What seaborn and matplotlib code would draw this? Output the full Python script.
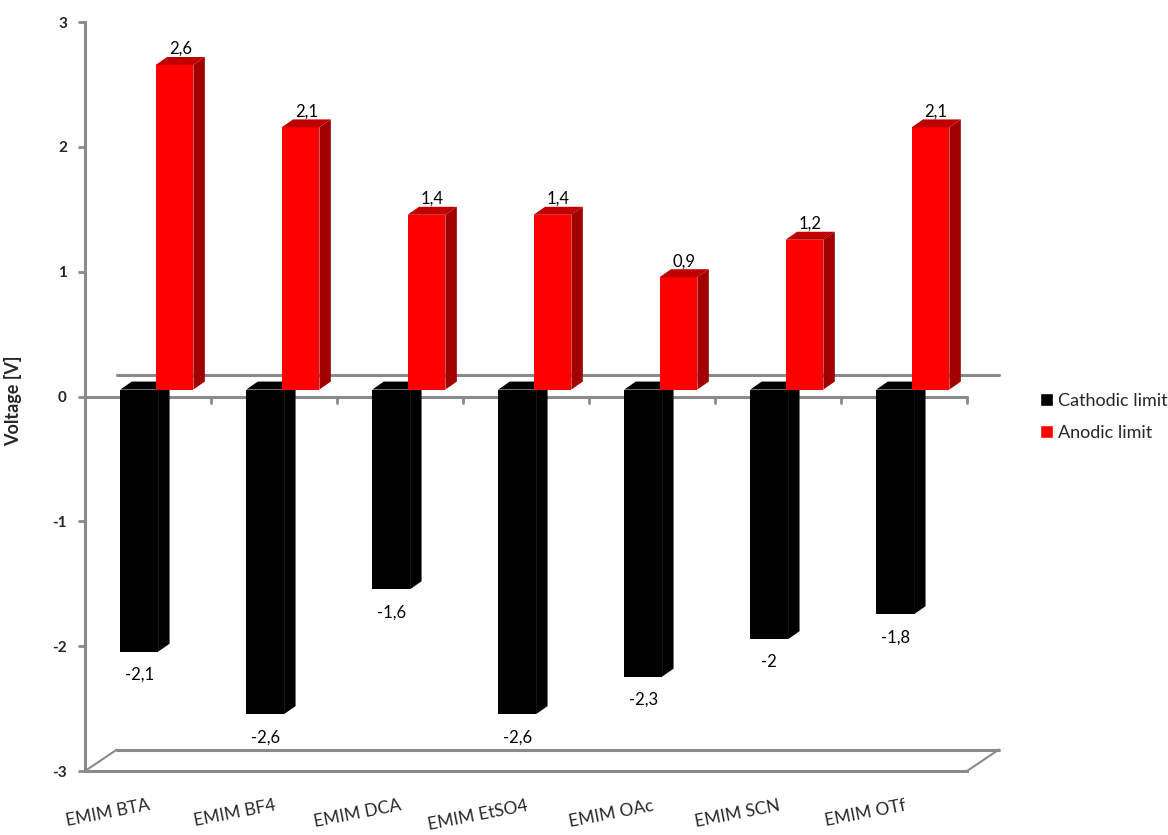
import numpy as np
import pandas as pd
import seaborn as sns
import matplotlib.pyplot as plt
from matplotlib.patches import Polygon, Patch

# Electrochemical window of EMIM ionic liquids
liquids = ["EMIM BTA", "EMIM BF4", "EMIM DCA", "EMIM EtSO4", "EMIM OAc", "EMIM SCN", "EMIM OTf"]
cathodic = [-2.1, -2.6, -1.6, -2.6, -2.3, -2.0, -1.8]
anodic = [2.6, 2.1, 1.4, 1.4, 0.9, 1.2, 2.1]
series = ["Cathodic limit", "Anodic limit"]
y_ticks = [-3, -2, -1, 0, 1, 2, 3]

df = pd.DataFrame({
    "liquid": liquids * 2,
    "limit": [series[0]] * len(liquids) + [series[1]] * len(liquids),
    "voltage": cathodic + anodic,
})

sns.set_style("white")
plt.rcParams["font.family"] = ["Lato", "DejaVu Sans"]

GRAY = "#8a8a8a"
fig = plt.figure(figsize=(11.68, 8.35), dpi=100)
ax = fig.add_axes([0.0728, 0.0766, 0.7551, 0.8970])

sns.barplot(data=df, x="liquid", y="voltage", hue="limit", order=liquids,
            hue_order=series, palette={series[0]: "#000000", series[1]: "#ff0000"},
            width=0.6, saturation=1, errorbar=None, legend=False, linewidth=0, ax=ax)

# pseudo-3D extrusion of the columns
dx, dy = 0.091, 0.064      # depth of a column (data units)
lift = 0.056               # columns stand slightly behind the front plane
face_w = 0.30
shift = {series[0]: -0.07, series[1]: 0.21}
faces = {series[0]: ("#000000", "#000000", "#000000"),
         series[1]: ("#ff0000", "#a00000", "#c00000")}

for k, (name, cont) in enumerate(zip(series, ax.containers)):
    front, side, top = faces[name]
    z = 2 + k
    for i, bar in enumerate(cont.patches):
        v = bar.get_height() + bar.get_y()
        x0 = i + shift[name] - face_w / 2
        x1 = x0 + face_w
        bar.set_x(x0)
        bar.set_width(face_w)
        bar.set_y(bar.get_y() + lift)
        bar.set_zorder(z)
        lo, hi = bar.get_y(), bar.get_y() + bar.get_height()
        lo, hi = min(lo, hi), max(lo, hi)
        ax.add_patch(Polygon([(x1, lo), (x1 + dx, lo + dy), (x1 + dx, hi + dy), (x1, hi)],
                             closed=True, facecolor=side, edgecolor="none", zorder=z))
        ax.add_patch(Polygon([(x0, hi), (x0 + dx, hi + dy), (x1 + dx, hi + dy), (x1, hi)],
                             closed=True, facecolor=top, edgecolor="none", zorder=z))
        label = f"{v:g}".replace(".", ",")
        if v >= 0:
            ax.annotate(label, ((x0 + x1 + dx) / 2, hi + dy), xytext=(0, 0),
                        textcoords="offset points", ha="center", va="bottom",
                        fontsize=12, color="black", zorder=5)
        else:
            ax.annotate(label, ((x0 + x1) / 2, lo), xytext=(0, -11),
                        textcoords="offset points", ha="center", va="top",
                        fontsize=12, color="black", zorder=5)

# zero plane and floor outlines
ox, oy = 0.253, 0.172
n = len(liquids)
ax.plot([-0.5, n - 0.5], [0, 0], color=GRAY, lw=2.2, zorder=1.5, clip_on=False)
ax.plot([-0.5 + ox, n - 0.5 + ox], [oy, oy], color=GRAY, lw=2.2, zorder=1, clip_on=False)
for b in range(1, n + 1):
    ax.plot([b - 0.5, b - 0.5], [0, -0.05], color=GRAY, lw=2, zorder=1.5, clip_on=False)
floor = -3
ax.plot([-0.5 + ox, n - 0.5 + ox], [floor + oy, floor + oy], color=GRAY, lw=2.2, clip_on=False)
ax.plot([-0.5, -0.5 + ox], [floor, floor + oy], color=GRAY, lw=1.5, clip_on=False)
ax.plot([n - 0.5, n - 0.5 + ox], [floor, floor + oy], color=GRAY, lw=1.5, clip_on=False)

ax.set_xlim(-0.5, n - 0.5)
ax.set_ylim(-3, 3)
ax.set_yticks(y_ticks)
ax.set_yticklabels([str(t) for t in y_ticks], fontweight="bold", fontsize=11)
ax.tick_params(axis="y", length=5, width=2, color=GRAY, pad=8, left=True)
ax.set_xticks(range(n))
ax.set_xticklabels(liquids, rotation=11, ha="right", rotation_mode="anchor", fontsize=12.5)
ax.tick_params(axis="x", length=0, pad=19)
ax.set_xlabel("")
ax.set_ylabel("Voltage [V]", fontweight="bold", fontsize=13)
ax.yaxis.set_label_coords(-0.0714, 0.494)

for s in ["top", "right"]:
    ax.spines[s].set_visible(False)
for s in ["left", "bottom"]:
    ax.spines[s].set_color(GRAY)
    ax.spines[s].set_linewidth(2.2)

handles = [Patch(facecolor="#000000", label=series[0]),
           Patch(facecolor="#ff0000", label=series[1])]
fig.legend(handles=handles, loc="center left", bbox_to_anchor=(0.883, 0.501),
           frameon=False, fontsize=13, handlelength=0.7, handleheight=0.7,
           handletextpad=0.3, labelspacing=0.9, borderpad=0)

fig.savefig("out.png", dpi=100, facecolor="white")
